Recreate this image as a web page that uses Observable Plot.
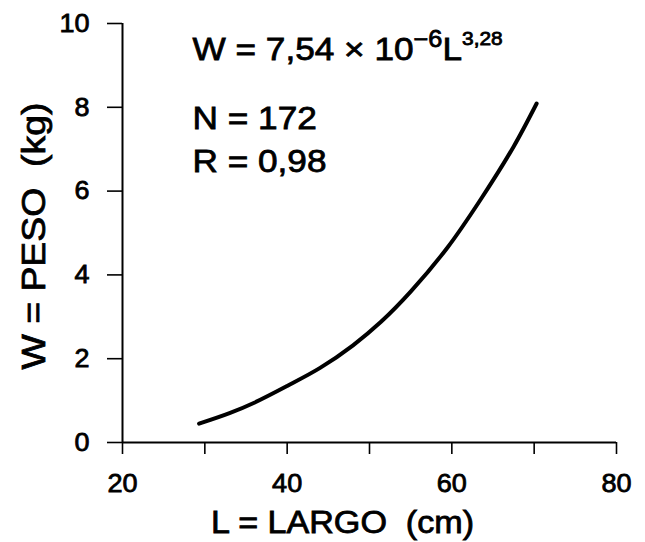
<!DOCTYPE html>
<html><head><meta charset="utf-8">
<script src="https://cdn.jsdelivr.net/npm/d3@7"></script>
<script src="https://cdn.jsdelivr.net/npm/@observablehq/plot@0.6"></script>
<style>
html,body{margin:0;padding:0;background:#fff;}
#chart svg{font-family:"Liberation Sans",Arial,sans-serif;color:#000;}
#chart svg text{stroke:#000;stroke-width:0.8px;}
#chart g[aria-label="y-axis tick label"] text,
#chart g[aria-label="x-axis tick label"] text{font-size:26px;}
</style></head><body><div id="chart"></div>
<script>
// Curve: L = LARGO (cm), W = PESO (kg)
const largo = [29.3, 33, 36, 40, 44, 48, 51.4, 55, 59.5, 63.5, 67.5, 70.3];
const peso  = [0.45, 0.70, 0.95, 1.35, 1.78, 2.32, 2.88, 3.60, 4.66, 5.80, 7.06, 8.09];
const xTicks = [20, 30, 40, 50, 60, 70, 80];
const xLabels = [20, 40, 60, 80];
const yTicks = [0, 2, 4, 6, 8, 10];
const xTitle = "L = LARGO\u00a0\u00a0(cm)";
const yTitle = "W = PESO\u00a0\u00a0(kg)";
const formulaParts = ["W = 7,54 × 10", "−6", "L", "3,28"];
const statN = "N = 172";
const statR = "R = 0,98";
const formulaText = formulaParts.join("");

const chart = Plot.plot({
  width: 645, height: 542,
  marginLeft: 122, marginRight: 29, marginTop: 23, marginBottom: 100,
  x: {domain: [20, 80], label: null},
  y: {domain: [0, 10], label: null},
  marks: [
    Plot.axisY({ticks: yTicks, tickSize: 15, tickPadding: 18, strokeWidth: 1.6, label: null}),
    Plot.axisX({ticks: xTicks, tickSize: 12, tickPadding: 19, strokeWidth: 1.6, label: null,
      tickFormat: d => xLabels.includes(d) ? String(d) : ""}),
    Plot.ruleY([0], {strokeWidth: 2}),
    Plot.ruleX([20], {strokeWidth: 2}),
    Plot.line(largo, {x: largo, y: peso, curve: "catmull-rom", strokeWidth: 4, stroke: "#000"}),
    Plot.text([formulaText], {frameAnchor: "top-left", dx: 70, dy: 36, textAnchor: "start", lineAnchor: "bottom", fontSize: 32}),
    Plot.text([statN], {frameAnchor: "top-left", dx: 70, dy: 105, textAnchor: "start", lineAnchor: "bottom", fontSize: 32}),
    Plot.text([statR], {frameAnchor: "top-left", dx: 70, dy: 148, textAnchor: "start", lineAnchor: "bottom", fontSize: 32}),
    Plot.text([xTitle], {frameAnchor: "bottom", dx: -27, dy: 90, textAnchor: "middle", lineAnchor: "bottom", fontSize: 31}),
    Plot.text([yTitle], {frameAnchor: "left", dx: -88, dy: 3, rotate: -90, textAnchor: "middle", lineAnchor: "middle", fontSize: 34})
  ]
});

// superscripts in the formula
for (const t of chart.querySelectorAll("text")) {
  if (t.textContent === formulaText) {
    t.textContent = "";
    const ns = "http://www.w3.org/2000/svg";
    const specs = [
      {s: formulaParts[0], fs: 32, dy: 0},
      {s: formulaParts[1], fs: 23, dy: -13},
      {s: formulaParts[2], fs: 32, dy: 13},
      {s: formulaParts[3], fs: 19, dy: -15}
    ];
    for (const sp of specs) {
      const ts = document.createElementNS(ns, "tspan");
      ts.textContent = sp.s;
      ts.setAttribute("font-size", sp.fs);
      if (sp.dy) ts.setAttribute("dy", sp.dy);
      t.appendChild(ts);
    }
  }
}
document.getElementById("chart").appendChild(chart);

// the original lettering is slightly wider than Arial/Liberation Sans
for (const t of chart.querySelectorAll("text")) {
  if (!t.textContent.trim()) continue;
  const isTick = t.closest('g[aria-label$="tick label"]');
  const w = t.getComputedTextLength();
  t.setAttribute("textLength", (w * (isTick ? 1.04 : 1.1)).toFixed(1));
  t.setAttribute("lengthAdjust", "spacingAndGlyphs");
}
</script>
</body></html>
